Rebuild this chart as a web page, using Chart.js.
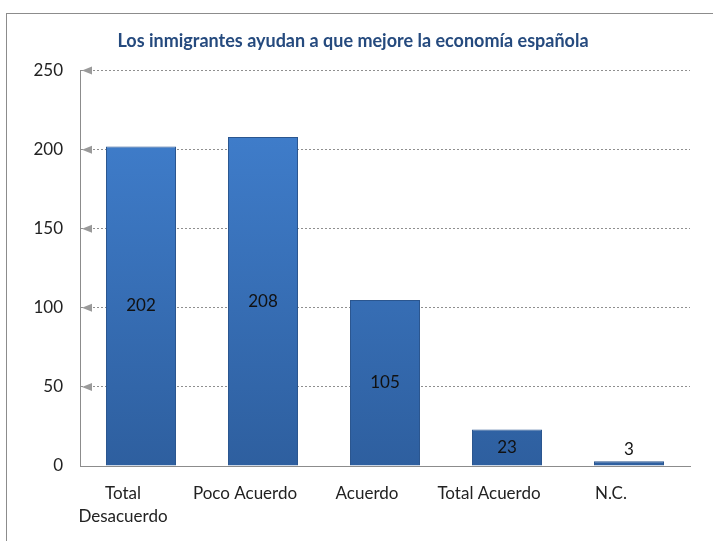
<!DOCTYPE html>
<html>
<head>
<meta charset="utf-8">
<script src="https://cdn.jsdelivr.net/npm/chart.js@4/dist/chart.umd.min.js"></script>
<style>
  html, body { margin: 0; padding: 0; background: #fff; }
  #wrap { position: relative; width: 713px; height: 541px; }
  #frame { position: absolute; left: 6px; top: 13px; width: 760px; height: 600px;
           border: 1px solid #8c8c8c; pointer-events: none; }
</style>
</head>
<body>
<div id="wrap">
  <canvas id="chart" width="713" height="541"></canvas>
  <div id="frame"></div>
</div>
<script>
const TITLE = "Los inmigrantes ayudan a que mejore la economía española";
const categories = [["Total", "Desacuerdo"], "Poco Acuerdo", "Acuerdo", "Total Acuerdo", "N.C."];
const values = [202, 208, 105, 23, 3];
const yMin = 0, yMax = 250, yStep = 50;

const FONT = "Lato, 'Open Sans', sans-serif";

// little gray arrows on each gridline, like the Excel tick marks
const arrowTicks = {
  id: "arrowTicks",
  afterDraw(chart) {
    const y = chart.scales.y, ctx = chart.ctx;
    const left = chart.chartArea.left;
    ctx.save();
    ctx.fillStyle = "#9a9a9a";
    y.ticks.forEach((t, i) => {
      if (t.value === 0) return;
      const py = y.getPixelForTick(i);
      ctx.beginPath();
      ctx.moveTo(left + 2, py);
      ctx.lineTo(left + 12, py - 4);
      ctx.lineTo(left + 12, py + 4);
      ctx.closePath();
      ctx.fill();
    });
    ctx.restore();
  }
};

// value labels, inside the bar middle (or just above if the bar is tiny)
const barValues = {
  id: "barValues",
  afterDatasetsDraw(chart) {
    const ctx = chart.ctx;
    const meta = chart.getDatasetMeta(0);
    ctx.save();
    ctx.font = "17px " + FONT;
    ctx.fillStyle = "#111";
    ctx.textAlign = "center";
    ctx.textBaseline = "middle";
    meta.data.forEach((bar, i) => {
      const h = bar.base - bar.y;
      let py = (bar.y + bar.base) / 2;
      if (h < 16) py = bar.y - 12;
      ctx.fillText(String(values[i]), bar.x, py);
    });
    ctx.restore();
  }
};

function barFill(context) {
  const chart = context.chart;
  const area = chart.chartArea;
  if (!area) return "#3a72bd";
  const g = chart.ctx.createLinearGradient(0, area.top, 0, area.bottom);
  g.addColorStop(0, "#4282d2");
  g.addColorStop(1, "#2e5f9f");
  return g;
}

const ctx = document.getElementById("chart").getContext("2d");
new Chart(ctx, {
  type: "bar",
  data: {
    labels: categories,
    datasets: [{
      data: values,
      backgroundColor: barFill,
      borderColor: "#2b568f",
      borderWidth: 1,
      categoryPercentage: 1,
      barPercentage: 0.574
    }]
  },
  options: {
    responsive: false,
    animation: false,
    layout: { padding: { left: 16, right: 23, bottom: 16 } },
    plugins: {
      legend: { display: false },
      tooltip: { enabled: false },
      title: {
        display: true,
        text: TITLE,
        color: "#254a7e",
        font: { family: FONT, size: 18, weight: "bold" },
        padding: { top: 30, bottom: 19 }
      }
    },
    scales: {
      x: {
        afterFit(scale) { scale.height = 59; },
        grid: { display: false, drawTicks: false },
        border: { display: true, color: "#8c8c8c", width: 1 },
        ticks: {
          color: "#222",
          font: { family: FONT, size: 17, lineHeight: 1.35 },
          padding: 16,
          labelOffset: -18,
          maxRotation: 0,
          autoSkip: false
        }
      },
      y: {
        min: yMin,
        max: yMax,
        afterFit(scale) { scale.width = 64; },
        grid: { color: "#8f8f8f", lineWidth: 1, drawTicks: false },
        border: { display: true, color: "#8c8c8c", width: 1, dash: [2, 2] },
        ticks: {
          stepSize: yStep,
          color: "#222",
          font: { family: FONT, size: 17 },
          padding: 17
        }
      }
    }
  },
  plugins: [arrowTicks, barValues]
});
</script>
</body>
</html>
